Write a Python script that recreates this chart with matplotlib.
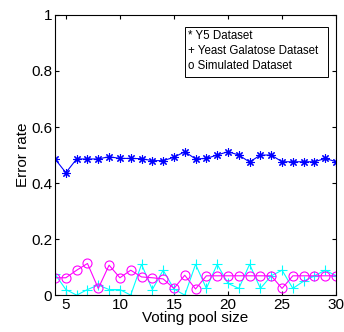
import matplotlib
matplotlib.use("Agg")
import matplotlib.pyplot as plt
from matplotlib.patches import Rectangle

plt.rcParams['font.family'] = ['Liberation Sans', 'DejaVu Sans']

# Voting pool sizes
pool_size = list(range(4, 31))

# Error rates
y5_err = [0.486, 0.437, 0.486, 0.486, 0.486, 0.494, 0.488, 0.488, 0.487, 0.480,
          0.480, 0.492, 0.512, 0.486, 0.488, 0.500, 0.512, 0.500, 0.475, 0.500,
          0.500, 0.476, 0.476, 0.476, 0.476, 0.488, 0.476]
yeast_err = [0.075, 0.020, 0.000, 0.020, 0.036, 0.020, 0.020, 0.000, 0.110, 0.020,
             0.089, 0.022, 0.000, 0.110, 0.024, 0.110, 0.042, 0.024, 0.110, 0.024,
             0.069, 0.089, 0.024, 0.050, 0.069, 0.089, 0.069]
sim_err = [0.062, 0.062, 0.089, 0.113, 0.024, 0.107, 0.062, 0.089, 0.065, 0.062,
           0.058, 0.024, 0.071, 0.022, 0.069, 0.069, 0.069, 0.069, 0.069, 0.069,
           0.069, 0.024, 0.069, 0.069, 0.069, 0.069, 0.069]

legend_lines = ["* Y5 Dataset", "+ Yeast Galatose Dataset", "o Simulated Dataset"]

fig = plt.figure(figsize=(3.44, 3.32), dpi=100)
ax = fig.add_axes([0.16, 0.111, 0.817, 0.844])

ax.plot(pool_size, y5_err, color="blue", lw=0.8, marker=(8, 2, 0),
        markersize=6, markeredgewidth=0.8)
ax.plot(pool_size, yeast_err, color="cyan", lw=0.8, marker="+",
        markersize=7, markeredgewidth=0.8)
ax.plot(pool_size, sim_err, color="magenta", lw=0.8, marker="o",
        markersize=6.5, markerfacecolor="none", markeredgewidth=0.8)

ax.set_xlim(4, 30)
ax.set_ylim(0, 1)
ax.set_xticks([5, 10, 15, 20, 25, 30])
ax.set_yticks([0, 0.2, 0.4, 0.6, 0.8, 1])
ax.set_yticklabels(["0", "0.2", "0.4", "0.6", "0.8", "1"])
ax.tick_params(direction="in", top=True, right=True, labelsize=11, length=3, pad=2)
ax.set_xlabel("Voting pool size", fontsize=11, labelpad=-1)
ax.set_ylabel("Error rate", fontsize=11, labelpad=1)
for s in ax.spines.values():
    s.set_linewidth(0.8)

# text-only legend box, MATLAB style
ax.add_patch(Rectangle((0.463, 0.779), 0.509, 0.178, transform=ax.transAxes,
                       facecolor="white", edgecolor="black", lw=0.7, zorder=5))
for i, line in enumerate(legend_lines):
    ax.text(0.474, 0.925 - i * 0.053, line, transform=ax.transAxes,
            fontsize=8.3, va="center", ha="left", zorder=6)

fig.savefig("out.png", dpi=100)
